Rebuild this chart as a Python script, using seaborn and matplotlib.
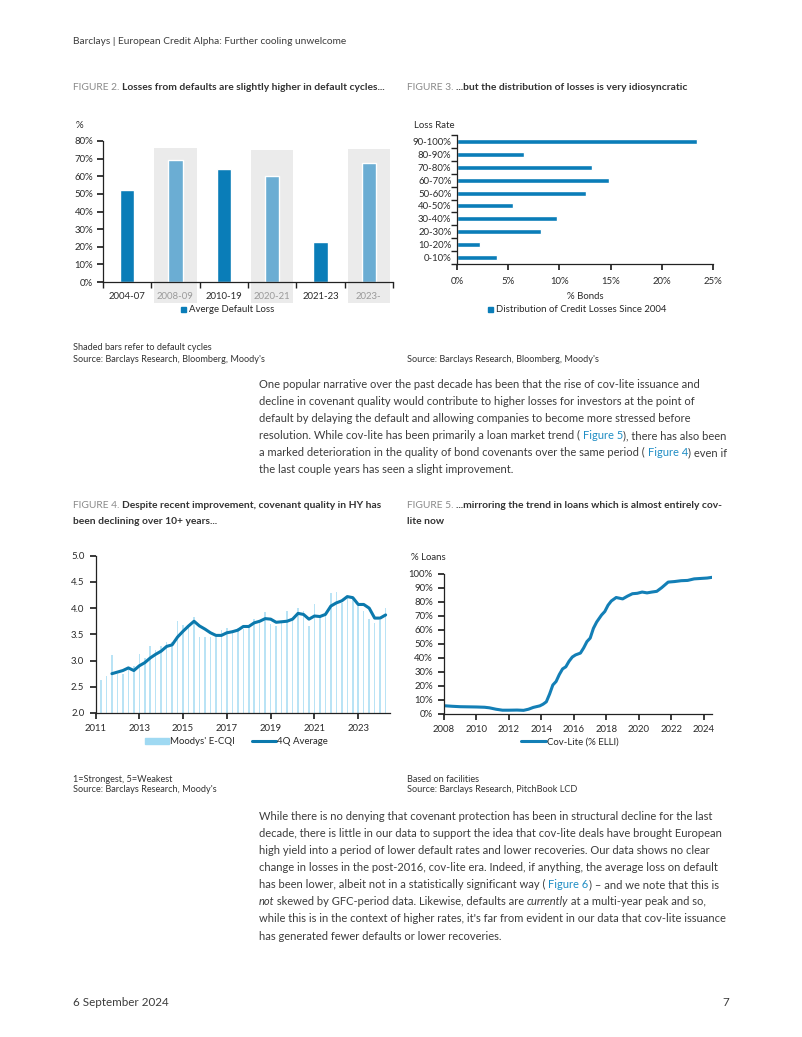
import numpy as np
import matplotlib
matplotlib.use("Agg")
import matplotlib.pyplot as plt
import seaborn as sns
from matplotlib.lines import Line2D
from matplotlib.patches import Patch
from matplotlib.ticker import FuncFormatter

W, H = 802, 1037

# Figure 2: average default loss by period
periods = ["2004-07", "2008-09", "2010-19", "2020-21", "2021-23", "2023-"]
avg_loss = [52.2, 69.2, 64.1, 60.1, 22.7, 67.7]
default_cycle = [False, True, False, True, False, True]
shade_top = [0, 76, 0, 75, 0, 75.5]

# Figure 3: distribution of credit losses since 2004
loss_bins = ["90-100%", "80-90%", "70-80%", "60-70%", "50-60%",
             "40-50%", "30-40%", "20-30%", "10-20%", "0-10%"]
bond_share = [23.4, 6.5, 13.2, 14.8, 12.6, 5.5, 9.8, 8.2, 2.2, 3.9]

# Figure 4: Moody's E-CQI (quarterly, 2011Q2 - 2024Q2) and 4Q average (2011Q4 - 2024Q2)
ecqi = [2.63, 2.70, 3.10, 2.75, 2.75, 2.85, 2.90, 3.12, 3.05, 3.28, 3.20, 3.28,
        3.35, 3.35, 3.76, 3.68, 3.65, 3.84, 3.45, 3.45, 3.45, 3.45, 3.58, 3.62,
        3.58, 3.62, 3.60, 3.68, 3.80, 3.75, 3.92, 3.70, 3.65, 3.72, 3.95, 3.80,
        4.00, 3.95, 3.65, 4.07, 3.85, 3.90, 4.28, 4.30, 4.10, 4.22, 4.20, 4.05,
        3.95, 3.80, 3.72, 3.78, 4.01]
avg_4q = [2.75, 2.78, 2.81, 2.86, 2.81, 2.90, 2.96, 3.05, 3.12, 3.18, 3.27, 3.30,
          3.45, 3.56, 3.66, 3.75, 3.66, 3.60, 3.53, 3.48, 3.48, 3.53, 3.55, 3.58,
          3.65, 3.65, 3.72, 3.75, 3.80, 3.79, 3.73, 3.74, 3.75, 3.79, 3.90, 3.88,
          3.79, 3.85, 3.84, 3.88, 4.04, 4.10, 4.14, 4.22, 4.20, 4.07, 4.07, 4.00,
          3.81, 3.81, 3.87]
ecqi_q = 2011.25 + 0.25 * np.arange(len(ecqi))
avg_q = 2011.75 + 0.25 * np.arange(len(avg_4q))

# Figure 5: cov-lite share of ELLI
cov_year = [2008.0, 2008.5, 2009.0, 2009.5, 2010.0, 2010.5, 2010.8, 2011.2, 2011.6,
            2012.0, 2012.5, 2012.9, 2013.2, 2013.5, 2013.9, 2014.1, 2014.3, 2014.5,
            2014.7, 2014.9, 2015.1, 2015.3, 2015.5, 2015.7, 2015.9, 2016.1, 2016.4,
            2016.6, 2016.8, 2017.0, 2017.2, 2017.4, 2017.7, 2017.9, 2018.1, 2018.3,
            2018.6, 2018.8, 2019.0, 2019.3, 2019.6, 2019.9, 2020.2, 2020.5, 2020.8,
            2021.1, 2021.4, 2021.8, 2022.2, 2022.6, 2023.0, 2023.4, 2023.8, 2024.2,
            2024.5]
cov_share = [5.7, 5.3, 5.0, 4.9, 4.8, 4.6, 4.2, 3.2, 2.5, 2.5, 2.6, 2.4, 3.2, 4.5,
             5.6, 6.8, 8.5, 14.0, 20.5, 23.0, 28.0, 32.0, 33.5, 37.5, 40.5, 42.0,
             43.3, 47.0, 51.5, 54.0, 61.0, 65.5, 70.5, 73.0, 77.5, 80.5, 83.0, 82.5,
             82.0, 84.0, 85.7, 86.0, 86.9, 86.3, 86.9, 87.4, 90.0, 94.0, 94.4, 95.0,
             95.2, 96.3, 96.6, 96.9, 97.4]

BLUE = "#0a7db8"
LIGHT = "#6badd3"
GREY_SHADE = "#ebebeb"
TEXT = "#3c3c3c"
LINK = "#1f8dc4"
FS = 6.9  # chart text size

sns.set_theme(style="ticks")
plt.rcParams["font.family"] = ["Lato", "DejaVu Sans"]
plt.rcParams["axes.edgecolor"] = "#222222"
plt.rcParams["xtick.color"] = "#222222"
plt.rcParams["ytick.color"] = "#222222"
plt.rcParams["xtick.labelcolor"] = "#2a2a2a"
plt.rcParams["ytick.labelcolor"] = "#2a2a2a"
plt.rcParams["xtick.labelsize"] = FS
plt.rcParams["ytick.labelsize"] = FS
plt.rcParams["axes.linewidth"] = 0.9

fig = plt.figure(figsize=(W / 100, H / 100), dpi=100)
fig.patch.set_facecolor("white")
renderer = fig.canvas.get_renderer()


def rect(l, t, r, b):
    return [l / W, 1 - b / H, (r - l) / W, (b - t) / H]


def put(x, y, s, **kw):
    kw.setdefault("va", "center")
    return fig.text(x / W, 1 - y / H, s, **kw)


def width(s, **kw):
    t1 = fig.text(0, 0, s + "|", **kw)
    t2 = fig.text(0, 0, "|", **kw)
    w = t1.get_window_extent(renderer).width - t2.get_window_extent(renderer).width
    t1.remove()
    t2.remove()
    return w


def rich(x, y, parts, **base):
    for s, style in parts:
        kw = dict(base)
        kw.update(style)
        t = put(x, y, s, **kw)
        if kw.get("style") == "italic":
            # plain ink width for short italic words
            x += t.get_window_extent(renderer).width - 0.5
        else:
            x += width(s, **{k: v for k, v in kw.items() if k != "va"})


def pct(v, _):
    return f"{v:.0f}%"


# header / footer
put(73, 42, "Barclays | European Credit Alpha: Further cooling unwelcome",
    fontsize=7.3, color=TEXT)
put(73, 1003, "6 September 2024", fontsize=8.4, color=TEXT)
put(729, 1003, "7", fontsize=8.4, color=TEXT, ha="right")

# figure titles
title_kw = dict(fontsize=7.4)
grey_t = dict(color="#8a8a8a")
bold_t = dict(color="#333333", weight="bold")
rich(73, 87, [("FIGURE 2. ", grey_t),
              ("Losses from defaults are slightly higher in default cycles...", bold_t)],
     **title_kw)
rich(407, 87, [("FIGURE 3. ", grey_t),
               ("...but the distribution of losses is very idiosyncratic", bold_t)],
     **title_kw)
rich(73, 506, [("FIGURE 4. ", grey_t),
               ("Despite recent improvement, covenant quality in HY has", bold_t)],
     **title_kw)
put(73, 521, "been declining over 10+ years...", **bold_t, **title_kw)
rich(407, 506, [("FIGURE 5. ", grey_t),
                ("...mirroring the trend in loans which is almost entirely cov-", bold_t)],
     **title_kw)
put(407, 521, "lite now", **bold_t, **title_kw)

# ---- Figure 2 ----
ax2 = fig.add_axes(rect(103, 141, 393, 282))
sns.barplot(x=periods, y=avg_loss, hue=periods,
            palette=[LIGHT if c else BLUE for c in default_cycle],
            width=0.3, legend=False, ax=ax2, zorder=2, saturation=1)
for i, c in enumerate(default_cycle):
    if c:
        ax2.bar(i, shade_top[i] + 12, bottom=-12, width=0.87, color=GREY_SHADE,
                zorder=0.5, clip_on=False, linewidth=0)
ax2.set_xlim(-0.5, 5.5)
ax2.set_ylim(0, 80)
ax2.set_yticks(range(0, 81, 10))
ax2.yaxis.set_major_formatter(FuncFormatter(pct))
ax2.set_xticks(range(6))
ax2.set_xticklabels(periods)
for lab, c in zip(ax2.get_xticklabels(), default_cycle):
    lab.set_color("#9a9a9a" if c else "#2a2a2a")
ax2.set_xticks(np.arange(-0.5, 6, 1), minor=True)
ax2.tick_params(axis="x", which="major", length=0, pad=7)
ax2.tick_params(axis="x", which="minor", length=4, direction="out")
ax2.tick_params(axis="y", length=4, pad=3)
ax2.set_xlabel("")
ax2.set_ylabel("")
sns.despine(ax=ax2)
put(76, 125, "%", fontsize=FS, color="#2a2a2a")
fig.legend(handles=[Line2D([], [], marker="s", ls="none", color=BLUE, markersize=3.6,
                           label="Averge Default Loss")],
           loc="center", bbox_to_anchor=(227 / W, 1 - 310 / H), frameon=False,
           fontsize=FS, handlelength=0.8, handletextpad=0.2, borderaxespad=0, borderpad=0)

# ---- Figure 3 ----
ax3 = fig.add_axes(rect(457, 135, 713, 264))
sns.barplot(x=bond_share, y=loss_bins, orient="h", color=BLUE, saturation=1,
            width=0.38, ax=ax3)
ax3.set_xlim(0, 25)
ax3.set_ylim(9.5, -0.5)
ax3.set_xticks(range(0, 26, 5))
ax3.xaxis.set_major_formatter(FuncFormatter(pct))
ax3.set_yticks(np.arange(-0.5, 10, 1), minor=True)
ax3.tick_params(axis="y", which="major", length=0, pad=4)
ax3.tick_params(axis="y", which="minor", length=4, direction="out")
ax3.tick_params(axis="x", length=4, pad=5)
ax3.set_xlabel("% Bonds", fontsize=FS, color="#2a2a2a", labelpad=5)
ax3.set_ylabel("")
sns.despine(ax=ax3)
put(414, 125, "Loss Rate", fontsize=FS, color="#2a2a2a")
fig.legend(handles=[Line2D([], [], marker="s", ls="none", color=BLUE, markersize=3.6,
                           label="Distribution of Credit Losses Since 2004")],
           loc="center", bbox_to_anchor=(576 / W, 1 - 310 / H), frameon=False,
           fontsize=FS, handlelength=0.8, handletextpad=0.2, borderaxespad=0, borderpad=0)

# notes under first row
note_kw = dict(fontsize=6.6, color="#333333")
put(73, 348, "Shaded bars refer to default cycles", **note_kw)
put(73, 359, "Source: Barclays Research, Bloomberg, Moody's", **note_kw)
put(407, 359, "Source: Barclays Research, Bloomberg, Moody's", **note_kw)

# ---- body paragraph 1 ----
body = dict(fontsize=8.0, color=TEXT)
lnk = dict(color=LINK)
p1 = [
    [("One popular narrative over the past decade has been that the rise of cov-lite issuance and", {})],
    [("decline in covenant quality would contribute to higher losses for investors at the point of", {})],
    [("default by delaying the default and allowing companies to become more stressed before", {})],
    [("resolution. While cov-lite has been primarily a loan market trend ( ", {}),
     ("Figure 5", lnk), ("), there has also been", {})],
    [("a marked deterioration in the quality of bond covenants over the same period ( ", {}),
     ("Figure 4", lnk), (") even if", {})],
    [("the last couple years has seen a slight improvement.", {})],
]
for i, parts in enumerate(p1):
    rich(259, 385 + i * 16.9, parts, **body)

# ---- Figure 4 ----
ax4 = fig.add_axes(rect(95.5, 555.7, 390, 713))
ax4.bar(ecqi_q, ecqi, width=0.07, color="#b9e3f5", linewidth=0, zorder=1)
sns.lineplot(x=avg_q, y=avg_4q, color="#0b79ad", linewidth=2.2, ax=ax4, zorder=3)
ax4.set_xlim(2011, 2024.45)
ax4.set_ylim(2.0, 5.0)
ax4.set_yticks(np.arange(2.0, 5.01, 0.5))
ax4.yaxis.set_major_formatter(FuncFormatter(lambda v, _: f"{v:.1f}"))
ax4.set_xticks(range(2011, 2024, 2))
ax4.tick_params(axis="both", length=4, pad=4)
sns.despine(ax=ax4)
fig.legend(handles=[Patch(color="#9fd9f2", label="Moodys' E-CQI"),
                    Line2D([], [], color="#0b79ad", lw=2.2, label="4Q Average")],
           loc="center", ncol=2, bbox_to_anchor=(236 / W, 1 - 742 / H), frameon=False,
           fontsize=FS, handlelength=2.5, handleheight=0.6, handletextpad=0.1,
           columnspacing=1.8, borderaxespad=0, borderpad=0)

# ---- Figure 5 ----
ax5 = fig.add_axes(rect(444, 573.7, 712, 713.7))
sns.lineplot(x=cov_year, y=cov_share, color="#137fb6", linewidth=2.2, ax=ax5)
ax5.set_xlim(2008, 2024.5)
ax5.set_ylim(0, 100)
ax5.set_yticks(range(0, 101, 10))
ax5.yaxis.set_major_formatter(FuncFormatter(pct))
ax5.set_xticks(range(2008, 2025, 2))
ax5.tick_params(axis="both", length=4, pad=4)
sns.despine(ax=ax5)
put(411, 557, "% Loans", fontsize=FS, color="#2a2a2a")
fig.legend(handles=[Line2D([], [], color="#137fb6", lw=2.2, label="Cov-Lite (% ELLI)")],
           loc="center", bbox_to_anchor=(570 / W, 1 - 742 / H), frameon=False,
           fontsize=FS, handlelength=2.6, handletextpad=0.05,
           borderaxespad=0, borderpad=0)

# notes under second row
put(73, 779, "1=Strongest, 5=Weakest", **note_kw)
put(73, 790, "Source: Barclays Research, Moody's", **note_kw)
put(407, 779, "Based on facilities", **note_kw)
put(407, 790, "Source: Barclays Research, PitchBook LCD", **note_kw)

# ---- body paragraph 2 ----
ital = dict(style="italic")
p2 = [
    [("While there is no denying that covenant protection has been in structural decline for the last", {})],
    [("decade, there is little in our data to support the idea that cov-lite deals have brought European", {})],
    [("high yield into a period of lower default rates and lower recoveries. Our data shows no clear", {})],
    [("change in losses in the post-2016, cov-lite era. Indeed, if anything, the average loss on default", {})],
    [("has been lower, albeit not in a statistically significant way ( ", {}),
     ("Figure 6", lnk), (") \u2013 and we note that this is", {})],
    [("not", ital), (" skewed by GFC-period data. Likewise, defaults are ", {}),
     ("currently", ital), (" at a multi-year peak and so,", {})],
    [("while this is in the context of higher rates, it's far from evident in our data that cov-lite issuance", {})],
    [("has generated fewer defaults or lower recoveries.", {})],
]
for i, parts in enumerate(p2):
    rich(259, 816.7 + i * 17.05, parts, **body)

fig.savefig("out.png", dpi=100)
